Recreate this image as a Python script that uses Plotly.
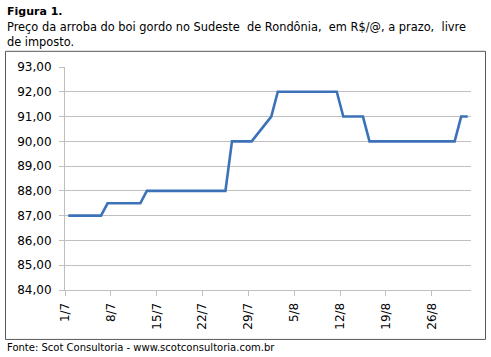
import plotly.graph_objects as go
import pandas as pd

# Data (2016, business days)
dates = [
    "2016-07-01", "2016-07-04", "2016-07-05", "2016-07-06",
    "2016-07-07", "2016-07-08", "2016-07-11", "2016-07-12",
    "2016-07-13", "2016-07-14", "2016-07-15", "2016-07-18", "2016-07-19",
    "2016-07-20", "2016-07-21", "2016-07-22", "2016-07-25",
    "2016-07-26", "2016-07-27", "2016-07-28", "2016-07-29",
    "2016-08-01",
    "2016-08-02", "2016-08-03", "2016-08-04", "2016-08-05",
    "2016-08-08", "2016-08-09", "2016-08-10", "2016-08-11",
    "2016-08-12", "2016-08-15",
    "2016-08-16", "2016-08-17", "2016-08-18", "2016-08-19",
    "2016-08-22", "2016-08-23", "2016-08-24", "2016-08-25",
    "2016-08-26", "2016-08-29",
    "2016-08-30", "2016-08-31",
]
prices = [
    87.0, 87.0, 87.0, 87.0,
    87.5, 87.5, 87.5, 87.5,
    88.0, 88.0, 88.0, 88.0, 88.0,
    88.0, 88.0, 88.0, 88.0,
    90.0, 90.0, 90.0, 90.0,
    91.0,
    92.0, 92.0, 92.0, 92.0,
    92.0, 92.0, 92.0, 92.0,
    91.0, 91.0,
    90.0, 90.0, 90.0, 90.0,
    90.0, 90.0, 90.0, 90.0,
    90.0, 90.0,
    91.0, 91.0,
]
tick_dates = ["2016-07-01", "2016-07-08", "2016-07-15", "2016-07-22", "2016-07-29",
              "2016-08-05", "2016-08-12", "2016-08-19", "2016-08-26"]
tick_labels = ["1/7", "8/7", "15/7", "22/7", "29/7", "5/8", "12/8", "19/8", "26/8"]

W, H = 491, 357
L, R, T, B = 65, 471, 66.7, 290

x_mid = pd.to_datetime(dates) + pd.Timedelta(hours=12)

fig = go.Figure()
fig.add_trace(go.Scatter(
    x=x_mid, y=prices, mode="lines",
    line=dict(color="#3C72B8", width=2.6),
    hoverinfo="skip",
))

def px(X):
    return (X - L) / (R - L)

def py(Y):
    return (B - Y) / (B - T)

font = "DejaVu Sans"
fig.update_layout(
    width=W, height=H,
    margin=dict(l=L, r=W - R, t=T, b=H - B, pad=0),
    paper_bgcolor="white", plot_bgcolor="white",
    showlegend=False,
    separators=",.",
    font=dict(family=font, size=12, color="#000000"),
    xaxis=dict(
        type="date",
        range=["2016-07-01", "2016-09-01"],
        tickmode="array", tickvals=tick_dates, ticktext=tick_labels,
        tickangle=-90,
        ticks="outside", ticklen=5, tickcolor="#BFBFBF", tickwidth=1,
        ticklabelstandoff=2,
        showline=True, linecolor="#BFBFBF", linewidth=1,
        showgrid=False, zeroline=False,
        tickfont=dict(family=font, size=12, color="#000000"),
    ),
    yaxis=dict(
        range=[84, 93], dtick=1, tick0=84, tickformat=".2f",
        ticks="outside", ticklen=5, tickcolor="#BFBFBF", tickwidth=1,
        ticklabelstandoff=5,
        showline=True, linecolor="#BFBFBF", linewidth=1,
        showgrid=True, gridcolor="#BFBFBF", gridwidth=1,
        zeroline=False,
        tickfont=dict(family=font, size=12, color="#000000"),
    ),
)

# outer chart border
fig.add_shape(type="rect", xref="paper", yref="paper",
              x0=px(5.5), x1=px(485.5), y0=py(339.5), y1=py(51),
              line=dict(color="#595959", width=1), fillcolor="rgba(0,0,0,0)", layer="below")

anns = [
    ("<b>Figura 1.</b>", 5, 11, 11),
    ("Preço da arroba do boi gordo no Sudeste  de Rondônia,  em R$/@, a prazo,  livre", 5, 27, 11.4),
    ("de imposto.", 5, 42, 11.4),
    ("Fonte: Scot Consultoria - www.scotconsultoria.com.br", 5, 348, 10),
]
for text, X, Y, size in anns:
    fig.add_annotation(text=text, xref="paper", yref="paper", x=px(X), y=py(Y),
                       xanchor="left", yanchor="middle", showarrow=False,
                       font=dict(family=font, size=size, color="#000000"))

fig.write_html("out.html", config={"displayModeBar": False},
               post_script="document.body.style.margin='0';document.body.style.overflow='hidden';")
